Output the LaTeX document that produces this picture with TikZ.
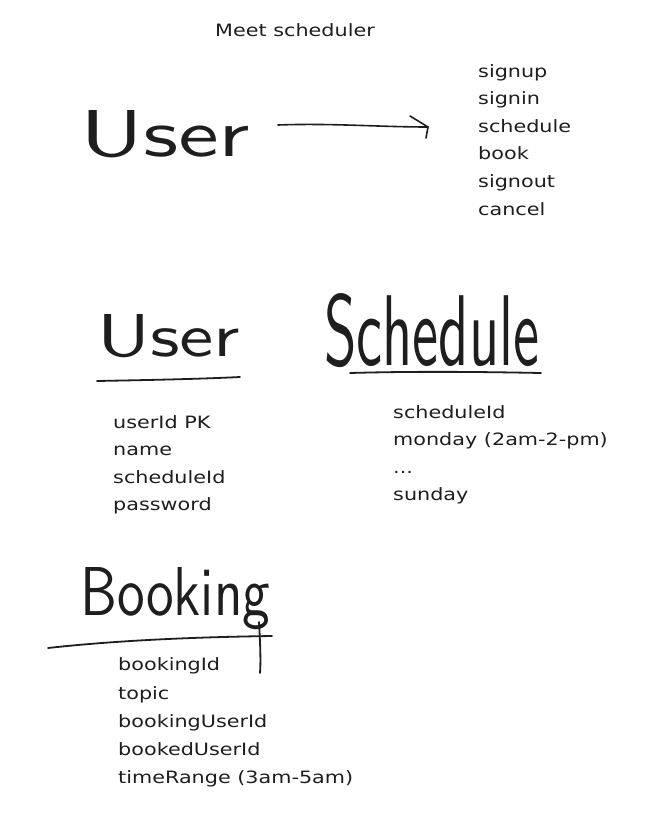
\documentclass[tikz,border=0pt]{standalone}
\usepackage{fontspec}
\usepackage{graphicx}
\newfontfamily\typed[FakeStretch=1.22]{DejaVu Sans}
\definecolor{ink}{HTML}{1E1E1E}
\begin{document}
\begin{tikzpicture}[x=1pt,y=-1pt,
  typed/.style={font=\typed\fontsize{17}{20}\selectfont, anchor=base west, inner sep=0pt, text=ink},
  handw/.style={font=\sffamily, inner sep=0pt, text=ink},
  stroke/.style={draw=ink, line width=1.8pt, line cap=round, line join=round}]
\fill[white] (0,0) rectangle (651,830);
\useasboundingbox (0,0) rectangle (651,830);

% title
\node[typed] (title) at (215,36) {Meet scheduler};

% top: User -> actions
\node[handw, anchor=south west] (user1) at (80,158) {\resizebox{170pt}{46pt}{User}};
\coordinate (arrS) at (278,125);
\coordinate (arrE) at (428,127);
\draw[stroke, line width=1.6pt] (arrS) .. controls (330,123) and (380,127) .. (arrE);
\draw[stroke, line width=1.6pt] (410,116) -- (arrE) -- (426,138);

\node[typed] (a1) at (478,77) {signup};
\node[typed] (a2) at (478,104) {signin};
\node[typed] (a3) at (478,132) {schedule};
\node[typed] (a4) at (478,159) {book};
\node[typed] (a5) at (478,187) {signout};
\node[typed] (a6) at (478,215) {cancel};

% User table
\node[handw, anchor=south west] (user2) at (97,358) {\resizebox{143pt}{42pt}{User}};
\draw[stroke] (97,381) .. controls (150,380) and (200,379) .. (240,377);
\node[typed] (u1) at (113,428) {userId PK};
\node[typed] (u2) at (113,455) {name};
\node[typed] (u3) at (113,483) {scheduleId};
\node[typed] (u4) at (113,510) {password};

% Schedule table
\node[handw, anchor=south west] (sched) at (324,368) {\resizebox{215pt}{72pt}{Schedule}};
\draw[stroke] (350,373) .. controls (420,371) and (490,372) .. (541,373);
\node[typed] (s1) at (393,418) {scheduleId};
\node[typed] (s2) at (393,445) {monday (2am-2-pm)};
\node[typed] (s3) at (393,473) {...};
\node[typed] (s4) at (393,500) {sunday};

% Booking table
\node[handw, anchor=base west] (book) at (80,615) {\resizebox{190pt}{48pt}{Booking}};
\draw[stroke] (48,648) .. controls (120,640) and (200,637) .. (272,636);
\draw[stroke] (259,622) .. controls (260,640) and (261,660) .. (260,673);
\node[typed] (b1) at (118,670) {bookingId};
\node[typed] (b2) at (118,699) {topic};
\node[typed] (b3) at (118,727) {bookingUserId};
\node[typed] (b4) at (118,755) {bookedUserId};
\node[typed] (b5) at (118,783) {timeRange (3am-5am)};
\end{tikzpicture}
\end{document}
